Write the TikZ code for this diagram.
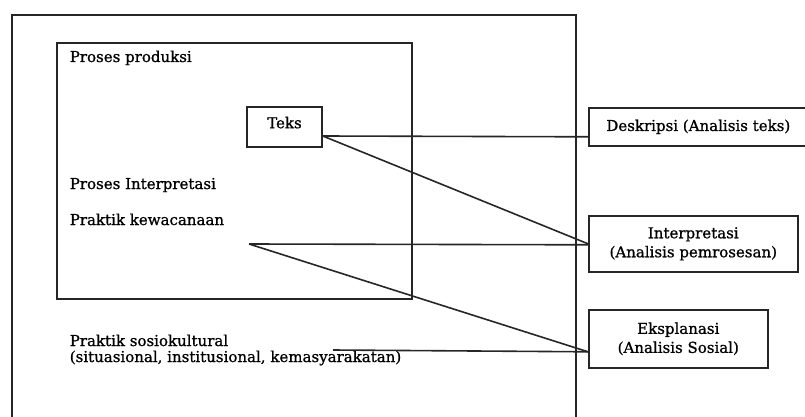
\documentclass[tikz,border=0pt]{standalone}
\usepackage{fontspec}
\setmainfont{DejaVu Serif}[FakeBold=0.9]
\usepackage{tikz}

\begin{document}
\begin{tikzpicture}[x=1pt,y=-1pt,line width=1.6pt,
		box/.style={draw=black!85,fill=white,inner sep=0pt,align=center,
			font=\fontsize{15}{19}\selectfont},
		lbl/.style={anchor=base west,inner sep=0pt,font=\fontsize{15}{16}\selectfont}]
			\clip (0,0) rectangle (805,417);
			% bingkai luar (praktik sosiokultural), terpotong di bawah
			\draw[black!85] (12,430) -- (12,15) -- (576,15) -- (576,430);
			% bingkai dalam (praktik kewacanaan)
			\node[draw=black!85,inner sep=0pt,anchor=north west,minimum width=355pt,minimum height=256pt] (wacanabox) at (56,42) {};
			\node[lbl] (produksi) at (69,62) {Proses produksi};
			\node[lbl] (interpretasi) at (69,189) {Proses Interpretasi};
			\node[lbl] (kewacanaan) at (69,225) {Praktik kewacanaan};
			\node[lbl] (sosio) at (69,346) {Praktik sosiokultural};
			\node[lbl] (sosioket) at (69,362) {(situasional, institusional, kemasyarakatan)};
			\node[box,minimum width=75pt,minimum height=40pt,text depth=9pt] (teks) at (284.5,127) {Teks};
			% kotak analisis di kanan
			\node[box,anchor=north west,minimum width=219pt,minimum height=38pt] (deskripsi) at (588,107) {Deskripsi (Analisis teks)};
			\node[box,anchor=north west,minimum width=209pt,minimum height=56pt] (interp) at (588,215) {Interpretasi\\(Analisis pemrosesan)};
			\node[box,anchor=north west,minimum width=179pt,minimum height=58pt] (eksp) at (588,309) {Eksplanasi\\(Analisis Sosial)};
			\coordinate (wacana) at (249,244);
			\coordinate (sosial) at (333,350);
			\draw[black!85] ([yshift=-9pt]teks.east) -- ([yshift=-10pt]deskripsi.west);
			\draw[black!85] ([yshift=-9pt]teks.east) -- (interp.west);
			\draw[black!85] (wacana) -- ([yshift=-1pt]interp.west);
			\draw[black!85] (wacana) -- ([yshift=-13pt]eksp.west);
			\draw[black!85] (sosial) -- ([yshift=-13pt]eksp.west);
		\end{tikzpicture}
\end{document}
